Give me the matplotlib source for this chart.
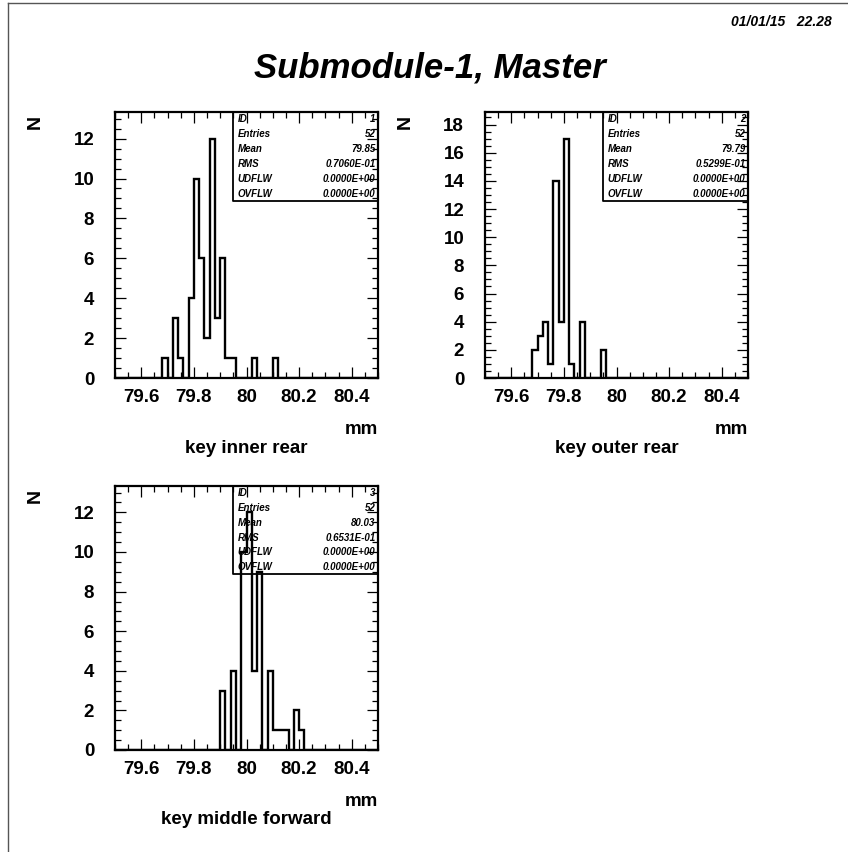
import numpy as np
import matplotlib.pyplot as plt
from matplotlib.ticker import MultipleLocator, FixedLocator, FixedFormatter

plt.rcParams['font.family'] = ['Liberation Sans', 'DejaVu Sans']
plt.rcParams['font.weight'] = 'bold'

W, H = 848, 852

# 50 bins of 0.02 mm between 79.5 and 80.5
edges = np.round(np.linspace(79.5, 80.5, 51), 2)

inner_rear = [0, 0, 0, 0, 0, 0, 0, 0, 0, 1,
              0, 3, 1, 0, 4, 10, 6, 2, 12, 3,
              6, 1, 1, 0, 0, 0, 1, 0, 0, 0,
              1, 0, 0, 0, 0, 0, 0, 0, 0, 0,
              0, 0, 0, 0, 0, 0, 0, 0, 0, 0]
outer_rear = [0, 0, 0, 0, 0, 0, 0, 0, 0, 2,
              3, 4, 1, 14, 4, 17, 1, 0, 4, 0,
              0, 0, 2, 0, 0, 0, 0, 0, 0, 0,
              0, 0, 0, 0, 0, 0, 0, 0, 0, 0,
              0, 0, 0, 0, 0, 0, 0, 0, 0, 0]
middle_fwd = [0, 0, 0, 0, 0, 0, 0, 0, 0, 0,
              0, 0, 0, 0, 0, 0, 0, 0, 0, 0,
              3, 0, 4, 0, 10, 12, 4, 9, 0, 4,
              1, 1, 1, 0, 2, 1, 0, 0, 0, 0,
              0, 0, 0, 0, 0, 0, 0, 0, 0, 0]

hists = [inner_rear, outer_rear, middle_fwd]
names = ['key inner rear', 'key outer rear', 'key middle forward']
ids = ['1', '2', '3']
entries = ['52', '52', '52']
means = ['79.85', '79.79', '80.03']
rms = ['0.7060E-01', '0.5299E-01', '0.6531E-01']
udflw = ['0.0000E+00', '0.0000E+00', '0.0000E+00']
ovflw = ['0.0000E+00', '0.0000E+00', '0.0000E+00']

xticks = [79.6, 79.8, 80.0, 80.2, 80.4]
xticklabels = ['79.6', '79.8', '80', '80.2', '80.4']

# pad boxes in pixels: left, top, right, bottom
pads = [(115, 112, 378, 378), (485, 112, 748, 378), (115, 486, 378, 750)]


def fx(px):
    return px / W


def fy(py):
    return 1 - py / H


fig = plt.figure(figsize=(W / 100, H / 100), dpi=100)

# page frame
fig.add_artist(plt.Line2D([fx(8), fx(8)], [fy(3), fy(852)], color='#555555', lw=1))
fig.add_artist(plt.Line2D([fx(8), fx(848)], [fy(3), fy(3)], color='#555555', lw=1))

fig.text(fx(430), fy(68), 'Submodule-1, Master', ha='center', va='center',
         fontsize=25, fontweight='bold', fontstyle='italic')
fig.text(fx(832), fy(22), '01/01/15   22.28', ha='right', va='center',
         fontsize=10, fontweight='bold', fontstyle='italic')

for k, (l, t, r, b) in enumerate(pads):
    ax = fig.add_axes([fx(l), fy(b), (r - l) / W, (b - t) / H])
    counts = hists[k]
    ax.stairs(counts, edges, color='black', lw=1.7)
    ax.set_xlim(79.5, 80.5)
    ax.set_ylim(0, max(counts) / 0.9)

    ax.xaxis.set_major_locator(FixedLocator(xticks))
    ax.xaxis.set_major_formatter(FixedFormatter(xticklabels))
    ax.xaxis.set_minor_locator(MultipleLocator(0.05))
    ax.yaxis.set_major_locator(MultipleLocator(2))
    ax.yaxis.set_minor_locator(MultipleLocator(0.5))
    ax.tick_params(which='both', direction='in', top=True, right=True, width=0.9)
    ax.tick_params(which='major', length=8)
    ax.tick_params(which='minor', length=4.5)
    ax.tick_params(axis='x', which='major', pad=8, labelsize=13.5)
    ax.tick_params(axis='y', which='major', pad=15, labelsize=13.5)
    for s in ax.spines.values():
        s.set_linewidth(1.6)
    for lab in ax.get_xticklabels() + ax.get_yticklabels():
        lab.set_fontweight('bold')

    # statistics box
    bx = 0.447
    bh = 0.335
    ax.plot([bx, bx, 1], [1, 1 - bh, 1 - bh], color='black', lw=1.3,
            transform=ax.transAxes, clip_on=False)
    rows = [('ID', ids[k]), ('Entries', entries[k]), ('Mean', means[k]),
            ('RMS', rms[k]), ('UDFLW', udflw[k]), ('OVFLW', ovflw[k])]
    for i, (key, val) in enumerate(rows):
        yy = 1 - bh * (i + 0.5) / 6
        ax.text(bx + 0.02, yy, key, transform=ax.transAxes, ha='left', va='center',
                fontsize=7, fontweight='bold', fontstyle='italic')
        ax.text(0.99, yy, val, transform=ax.transAxes, ha='right', va='center',
                fontsize=7, fontweight='bold', fontstyle='italic')

    fig.text(fx(l - 80), fy(t + 10), 'N', rotation=90, ha='center', va='center',
             fontsize=14, fontweight='bold')
    fig.text(fx(r), fy(b + 52), 'mm', ha='right', va='center',
             fontsize=13.5, fontweight='bold')
    fig.text(fx((l + r) / 2), fy(b + 70), names[k], ha='center', va='center',
             fontsize=13.5, fontweight='bold')

fig.savefig('out.png', dpi=100)
